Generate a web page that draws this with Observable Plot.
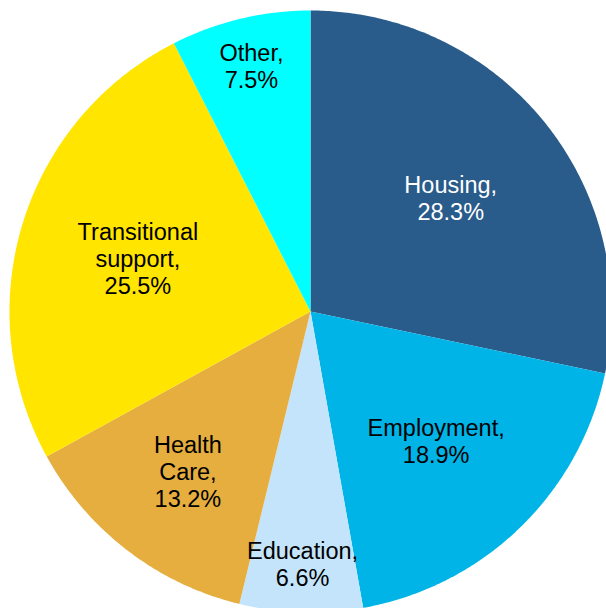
<!DOCTYPE html>
<html><head><meta charset="utf-8">
<script src="https://cdn.jsdelivr.net/npm/d3@7"></script>
<script src="https://cdn.jsdelivr.net/npm/@observablehq/plot@0.6"></script>
<style>body{margin:0;background:#fff;overflow:hidden}</style>
</head><body><div id="chart"></div>
<script>
const categories = ["Housing", "Employment", "Education", "Health Care", "Transitional support", "Other"];
const labelNames = ["Housing,", "Employment,", "Education,", "Health\nCare,", "Transitional\nsupport,", "Other,"];
const shares = [28.3, 18.9, 6.6, 13.2, 25.5, 7.5];
const colors = ["#295B8B", "#00B4E8", "#C4E4FB", "#E5AE3E", "#FFE500", "#00FFFF"];

const total = d3.sum(shares);
const slicePts = [];
const labelData = [];
let acc = 0;
shares.forEach((v, i) => {
  const a0 = acc / total * 2 * Math.PI;
  acc += v;
  const a1 = acc / total * 2 * Math.PI;
  const cat = categories[i];
  slicePts.push({cat, x: 0, y: 0});
  const n = Math.max(2, Math.ceil((a1 - a0) / (Math.PI / 360)));
  for (let k = 0; k <= n; k++) {
    const a = a0 + (a1 - a0) * k / n;
    slicePts.push({cat, x: Math.sin(a), y: Math.cos(a)});
  }
  const am = (a0 + a1) / 2;
  const frac = v / total;
  const rr = frac < 0.1 ? 0.84 : frac < 0.15 ? 0.67 : 0.6;
  const dark = d3.lab(colors[i]).l < 50;
  labelData.push({cat, x: rr * Math.sin(am), y: rr * Math.cos(am), text: `${labelNames[i]}\n${v.toFixed(1)}%`, dark});
});

const font = "'Liberation Sans', Arial, Helvetica, sans-serif";
const chart = Plot.plot({
  width: 606,
  height: 608,
  margin: 0,
  x: {domain: [-1, 1], range: [9, 611], axis: null},
  y: {domain: [-1, 1], range: [612, 10], axis: null},
  color: {domain: categories, range: colors},
  style: {fontFamily: font, background: "white"},
  marks: [
    Plot.line(slicePts, {x: "x", y: "y", z: "cat", fill: "cat", stroke: "none", curve: "linear"}),
    Plot.text(labelData, {filter: d => !d.dark, x: "x", y: "y", text: "text", fill: "black", fontSize: 23.5, lineHeight: 1.15, fontFamily: font}),
    Plot.text(labelData, {filter: d => d.dark, x: "x", y: "y", text: "text", fill: "white", fontSize: 23.5, lineHeight: 1.15, fontFamily: font})
  ]
});
document.getElementById("chart").appendChild(chart);
</script>
</body></html>
